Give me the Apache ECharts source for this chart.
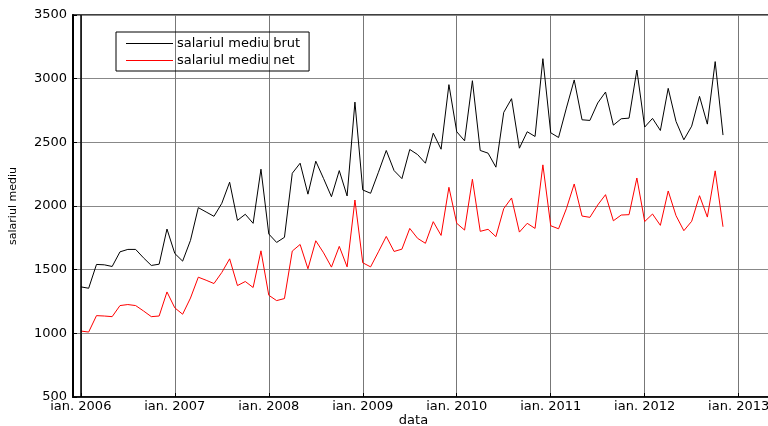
<!DOCTYPE html>
<html>
<head>
<meta charset="utf-8">
<script src="https://cdn.jsdelivr.net/npm/echarts@6/dist/echarts.min.js"></script>
<style>
  html, body { margin: 0; padding: 0; background: #fff; }
  #chart { width: 768px; height: 426px; }
</style>
</head>
<body>
<div id="chart"></div>
<script>
// Monthly average wages (RON), Jan 2006 – Nov 2012
const brut = [
  1365, 1354, 1541, 1538, 1525, 1640, 1659, 1659, 1593, 1533, 1543, 1819,
  1627, 1567, 1730, 1987, 1953, 1919, 2021, 2187, 1887, 1935, 1864, 2289,
  1780, 1714, 1754, 2257, 2336, 2093, 2352, 2215, 2073, 2278, 2079, 2816,
  2126, 2100, 2265, 2436, 2278, 2215, 2444, 2404, 2336, 2572, 2446, 2953,
  2583, 2512, 2984, 2436, 2415, 2305, 2735, 2843, 2454, 2583, 2546, 3157,
  2575, 2538, 2769, 2990, 2677, 2672, 2809, 2895, 2635, 2685, 2690, 3068,
  2620, 2688, 2593, 2924, 2664, 2520, 2627, 2861, 2643, 3134, 2557
];
const net = [
  1018, 1010, 1139, 1136, 1131, 1218, 1226, 1218, 1176, 1131, 1136, 1325,
  1200, 1150, 1277, 1441, 1417, 1391, 1478, 1585, 1375, 1407, 1360, 1648,
  1299, 1257, 1273, 1646, 1698, 1507, 1727, 1632, 1520, 1683, 1522, 2047,
  1554, 1522, 1640, 1761, 1643, 1661, 1824, 1746, 1707, 1877, 1769, 2147,
  1864, 1811, 2210, 1801, 1817, 1759, 1979, 2063, 1795, 1864, 1824, 2323,
  1845, 1821, 1979, 2173, 1921, 1911, 2008, 2089, 1884, 1929, 1932, 2220,
  1878, 1937, 1848, 2118, 1924, 1806, 1880, 2081, 1913, 2276, 1837
];
const seriesNames = ['salariul mediu brut', 'salariul mediu net'];
const yTicks = [500, 1000, 1500, 2000, 2500, 3000, 3500];

// Month categories: Dec 2005 .. May 2013 (axis runs a little past the data)
const months = ['2005-12'];
for (let y = 2006; y <= 2013; y++) {
  for (let m = 1; m <= 12; m++) {
    if (y === 2013 && m > 5) break;
    months.push(y + '-' + String(m).padStart(2, '0'));
  }
}
const lead = [null]; // Dec 2005 has no value

const isJan = (idx, val) => String(val).endsWith('-01');
const font = 'DejaVu Sans, Verdana, sans-serif';

const chart = echarts.init(document.getElementById('chart'), null, { renderer: 'canvas' });
chart.setOption({
  animation: false,
  backgroundColor: '#fff',
  textStyle: { fontFamily: font },
  grid: {
    left: 73, top: 15, width: 697, height: 382,
    outerBoundsMode: 'none',
    containLabel: false,
    show: true, borderColor: '#000', borderWidth: 1.5, backgroundColor: 'transparent'
  },
  legend: {
    orient: 'vertical',
    left: 116, top: 32,
    data: seriesNames.map(n => ({ name: n, icon: 'rect' })),
    borderColor: '#000', borderWidth: 1,
    padding: [5, 9, 4, 10],
    itemGap: 4,
    itemWidth: 47, itemHeight: 1,
    textStyle: { fontFamily: font, fontSize: 13, color: '#000', padding: [0, 0, 0, -1] }
  },
  xAxis: {
    type: 'category',
    data: months,
    boundaryGap: false,
    name: 'data',
    nameLocation: 'middle',
    nameGap: 17,
    nameMoveOverlap: false,
    nameTextStyle: { fontFamily: font, fontSize: 13, color: '#000', padding: [0, 16, 0, 0] },
    axisLine: { show: true, lineStyle: { color: '#000', width: 1.5 } },
    axisTick: { show: true, inside: true, length: 4, interval: isJan, lineStyle: { color: '#000' } },
    axisLabel: {
      interval: isJan,
      margin: 3,
      fontFamily: font, fontSize: 13, color: '#000',
      formatter: v => 'ian. ' + v.slice(0, 4)
    },
    splitLine: { show: true, interval: isJan, lineStyle: { color: '#777', width: 1 } }
  },
  yAxis: {
    type: 'value',
    min: yTicks[0], max: yTicks[yTicks.length - 1], interval: 500,
    name: 'salariul mediu',
    nameLocation: 'middle',
    nameGap: 54,
    nameMoveOverlap: false,
    nameRotate: 90,
    nameTextStyle: { fontFamily: font, fontSize: 11, color: '#000' },
    axisLine: { show: true, lineStyle: { color: '#000', width: 2 } },
    axisTick: { show: true, inside: true, length: 4, lineStyle: { color: '#000' } },
    axisLabel: { fontFamily: font, fontSize: 13, color: '#000', margin: 6, formatter: v => String(v) },
    splitLine: { show: true, lineStyle: { color: '#888', width: 1 } }
  },
  series: [
    {
      name: seriesNames[0],
      type: 'line',
      data: lead.concat(brut),
      symbol: 'none',
      lineStyle: { color: '#000', width: 1 },
      itemStyle: { color: '#000' },
      z: 3,
      markLine: {
        silent: true,
        symbol: 'none',
        label: { show: false },
        lineStyle: { color: '#000', width: 1.5, type: 'solid' },
        data: [{ xAxis: '2006-01' }]
      }
    },
    {
      name: seriesNames[1],
      type: 'line',
      data: lead.concat(net),
      symbol: 'none',
      lineStyle: { color: '#ff0000', width: 1 },
      itemStyle: { color: '#ff0000' },
      z: 3
    }
  ]
});
</script>
</body>
</html>
